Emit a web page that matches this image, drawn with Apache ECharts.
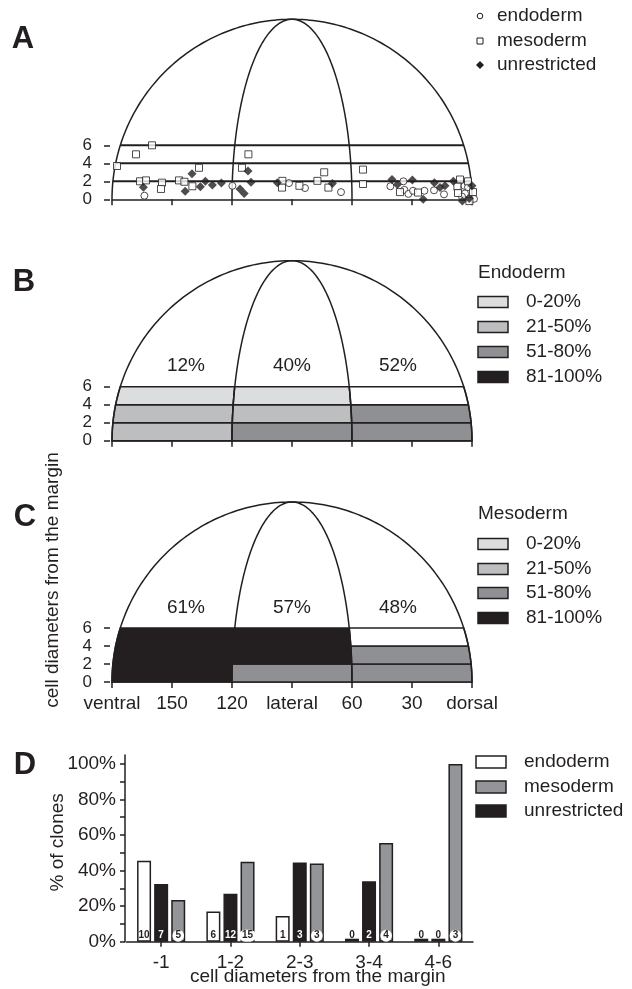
<!DOCTYPE html>
<html><head><meta charset="utf-8">
<script src="https://cdn.jsdelivr.net/npm/echarts@6/dist/echarts.min.js"></script>
<style>html,body{margin:0;padding:0;background:#fff}#c{width:632px;height:989px}</style>
</head><body><div id="c"></div>
<script>
// ---------- Panel A: clones [degrees from dorsal, cell diameters from margin] ----------
const endodermClones = [[163.8,0.4],[119.8,1.5],[91.5,1.8],[83.5,1.25],[65.5,0.8],[40.8,1.45],[34.3,2.0],[33.8,1.05],[31.8,0.6],[29.5,0.95],[23.8,0.95],[19,1.0],[14,0.55],[3.8,1.5],[3.5,0.65],[2,1.35],[5,0.3],[-1,0.05]];
const mesodermClones = [[160,6.0],[168,5.0],[177.5,3.7],[166,2.0],[163,2.1],[155,1.85],[155.5,1.15],[146.5,2.1],[143.8,1.95],[136.5,3.5],[139.8,1.45],[115,3.5],[111.8,5.0],[94.8,2.05],[95,1.3],[86.3,1.5],[77.3,2.05],[73.9,3.0],[71.8,1.3],[54.5,3.3],[54.5,1.7],[36,0.8],[27,0.75],[6,2.2],[2,2.0],[7.3,1.4],[7,0.7],[-0.5,0.8],[1.3,-0.2]];
const unrestrictedClones = [[164.3,1.35],[140,2.85],[143.4,0.9],[135.8,1.4],[133.3,2.0],[129.8,1.6],[125.3,1.8],[112,3.15],[110.5,1.9],[116,1.15],[113.9,0.65],[97.3,1.85],[69.8,1.75],[40,2.2],[37.3,1.65],[29.8,2.15],[24.4,0.0],[18.8,1.85],[16,1.3],[13.5,1.5],[9.3,2.0],[0,1.5],[4.8,-0.2],[1.4,0.1]];

const xTickValues = [0,30,60,90,120,150,180];
const xTickLabels = ['dorsal','30','60','lateral','120','150','ventral'];
const yTickValues = [0,2,4,6];
const rowEdges = [0,2,4,6];

// ---------- Panels B, C: shading class per cell (rows 0-2, 2-4, 4-6; cols ventral, lateral, dorsal) ----------
const shadeClasses = ['0-20%','21-50%','51-80%','81-100%'];
const endodermCells = [[1,2,2],[1,1,2],[0,0,-1]];
const mesodermCells = [[3,2,2],[3,3,2],[3,3,-1]];
const endodermTotals = ['12%','40%','52%'];
const mesodermTotals = ['61%','57%','48%'];

// ---------- Panel D ----------
const distCategories = ['-1','1-2','2-3','3-4','4-6'];
const endodermPctD = [45.5,17,14.5,0,0];
const unrestrictedPctD = [32.5,27,44.5,34,0];
const mesodermPctD = [23.5,45,44,55.5,100];
const endodermN = [10,6,1,0,0];
const unrestrictedN = [7,12,3,2,0];
const mesodermN = [5,15,3,4,3];
const pctLabelValues = [0,20,40,60,80,100];
const pctTickValues = [0,10,20,30,40,50,60,70,80,90,100];

// ---------- styling / geometry ----------
const INK = '#231f20';
const SHADES = ['#dcdddf','#bcbec0','#8f9093','#231f20'];
const MESO_GREY = '#939598';
const FONT = "'Liberation Sans', Arial, Helvetica, sans-serif";
const R_Y = 20, R_OUT = 90, R_IN = 30, MID = 90;
const colCenters = [143, 90, 37];
const TOTAL_Y = 8.3;

function half(y){ const r = y / R_Y; return Math.sqrt(Math.max(0, 1 - r*r)); }
function boundary(k, y){ const f = half(y); return [MID + R_OUT*f, MID + R_IN*f, MID - R_IN*f, MID - R_OUT*f][k]; }

function domeRender(withLevels){
  return function(params, api){
    const outer = [], inner = [];
    for (let i = 0; i <= 160; i++){
      const t = Math.PI * i / 160;
      outer.push(api.coord([MID + R_OUT*Math.cos(t), R_Y*Math.sin(t)]));
      inner.push(api.coord([MID + R_IN*Math.cos(t), R_Y*Math.sin(t)]));
    }
    const children = [
      {type:'polyline', shape:{points:outer}, style:{stroke:INK, fill:null, lineWidth:1.5}},
      {type:'polyline', shape:{points:inner}, style:{stroke:INK, fill:null, lineWidth:1.5}}
    ];
    if (withLevels){
      [2,4,6].forEach(function(lv){
        const a = api.coord([boundary(0, lv), lv]), b = api.coord([boundary(3, lv), lv]);
        children.push({type:'line', shape:{x1:a[0], y1:a[1], x2:b[0], y2:b[1]}, style:{stroke:INK, lineWidth:2}});
      });
    }
    return {type:'group', children: children};
  };
}

function cellRender(params, api){
  const col = api.value(0), row = api.value(1), cls = api.value(2);
  const y0 = rowEdges[row], y1 = rowEdges[row+1];
  const pts = [], N = 12;
  for (let i = 0; i <= N; i++){ const y = y0 + (y1-y0)*i/N; pts.push(api.coord([boundary(col, y), y])); }
  for (let i = N; i >= 0; i--){ const y = y0 + (y1-y0)*i/N; pts.push(api.coord([boundary(col+1, y), y])); }
  return {type:'polygon', shape:{points:pts}, style:{fill: cls < 0 ? '#fff' : SHADES[cls], stroke:INK, lineWidth:1.5}};
}

function totalRender(labels){
  return function(params, api){
    const i = params.dataIndex;
    const p = api.coord([colCenters[i], TOTAL_Y]);
    return {type:'text', x:p[0], y:p[1], style:{text: labels[i], fontSize:19, fontFamily:FONT, fill:INK, align:'center', verticalAlign:'middle'}};
  };
}

function cellData(cells){
  const out = [];
  cells.forEach(function(r, ri){ r.forEach(function(c, ci){ out.push([ci, ri, c]); }); });
  return out;
}

const gridBase = {outerBoundsMode:'none', containLabel:false};
const grids = [
  Object.assign({left:112, width:360, top:19.3, height:180}, gridBase),
  Object.assign({left:112, width:360, top:260.7, height:180}, gridBase),
  Object.assign({left:112, width:360, top:502, height:180}, gridBase),
  Object.assign({left:126.5, width:346.5, top:755, height:186.7}, gridBase)
];

const xAxes = [0,1,2].map(function(i){
  return {gridIndex:i, type:'value', min:0, max:180, interval:30, inverse:true,
    axisLine:{show:true, onZero:false, lineStyle:{color:INK, width:1.5}},
    axisTick:{show:true, length:6, lineStyle:{color:INK, width:1.5}},
    axisLabel:{show: i === 2, margin:12, fontSize:19, fontFamily:FONT, color:INK, showMinLabel:true, showMaxLabel:true,
      formatter: function(v){ return xTickLabels[xTickValues.indexOf(v)]; }},
    splitLine:{show:false}};
});
xAxes.push({gridIndex:3, type:'category', data:distCategories,
  axisLine:{show:true, lineStyle:{color:INK, width:1.5}},
  axisTick:{show:true, alignWithLabel:true, length:5, lineStyle:{color:INK, width:1.5}},
  axisLabel:{margin:12, fontSize:19, fontFamily:FONT, color:INK},
  name:'cell diameters from the margin', nameLocation:'middle', nameGap:26, nameMoveOverlap:false,
  nameTextStyle:{fontSize:19, fontFamily:FONT, color:INK, padding:[0,0,0,36]}});

const yAxes = [0,1,2].map(function(i){
  return {gridIndex:i, type:'value', position:'left', min:0, max:R_Y, offset:2,
    axisLine:{show:false, onZero:false},
    axisTick:{show:true, length:6, customValues:yTickValues, lineStyle:{color:INK, width:1.5}},
    axisLabel:{customValues:yTickValues, margin:18, fontSize:17, fontFamily:FONT, color:INK},
    splitLine:{show:false}};
});
yAxes.push({gridIndex:3, type:'value', position:'left', min:0, max:105, offset:1.5,
  axisLine:{show:true, onZero:false, lineStyle:{color:INK, width:1.5}},
  axisTick:{show:true, length:5, customValues:pctTickValues, lineStyle:{color:INK, width:1.5}},
  axisLabel:{customValues:pctLabelValues, margin:9, fontSize:19, fontFamily:FONT, color:INK, formatter:'{value}%'},
  splitLine:{show:false},
  name:'% of clones', nameLocation:'middle', nameGap:58, nameRotate:90, nameMoveOverlap:false,
  nameTextStyle:{fontSize:19, fontFamily:FONT, color:INK, padding:[0,0,0,12]}});

const countLabel = {show:true, position:'insideBottom', distance:0, fontSize:10, fontWeight:'bold', fontFamily:FONT, padding:[1,2]};

const series = [
  // Panel A
  {type:'custom', xAxisIndex:0, yAxisIndex:0, renderItem:domeRender(true), data:[[0,0]], silent:true, z:1},
  {name:'endoderm', type:'scatter', xAxisIndex:0, yAxisIndex:0, data:endodermClones, symbol:'circle', symbolSize:7, clip:false,
    itemStyle:{color:'#fff', borderColor:INK, borderWidth:1}, z:5},
  {name:'mesoderm', type:'scatter', xAxisIndex:0, yAxisIndex:0, data:mesodermClones, symbol:'rect', symbolSize:7, clip:false,
    itemStyle:{color:'#fff', borderColor:INK, borderWidth:1}, z:5},
  {name:'unrestricted', type:'scatter', xAxisIndex:0, yAxisIndex:0, data:unrestrictedClones, symbol:'diamond', symbolSize:9, clip:false,
    itemStyle:{color:INK}, z:6},
  // Panel B
  {type:'custom', xAxisIndex:1, yAxisIndex:1, renderItem:cellRender, data:cellData(endodermCells), silent:true, z:1},
  {type:'custom', xAxisIndex:1, yAxisIndex:1, renderItem:domeRender(false), data:[[0,0]], silent:true, z:2},
  {type:'custom', xAxisIndex:1, yAxisIndex:1, renderItem:totalRender(endodermTotals), data:endodermTotals.map(function(t,i){return [i,0];}), silent:true, z:3},
  // Panel C
  {type:'custom', xAxisIndex:2, yAxisIndex:2, renderItem:cellRender, data:cellData(mesodermCells), silent:true, z:1},
  {type:'custom', xAxisIndex:2, yAxisIndex:2, renderItem:domeRender(false), data:[[0,0]], silent:true, z:2},
  {type:'custom', xAxisIndex:2, yAxisIndex:2, renderItem:totalRender(mesodermTotals), data:mesodermTotals.map(function(t,i){return [i,0];}), silent:true, z:3},
  // Panel D
  {name:'endoderm D', type:'bar', xAxisIndex:3, yAxisIndex:3, data:endodermPctD, barWidth:14, barGap:'22%', barMinHeight:3,
    itemStyle:{color:'#fff', borderColor:INK, borderWidth:1.5},
    label:Object.assign({}, countLabel, {color:INK, formatter:function(p){return endodermN[p.dataIndex];}})},
  {name:'unrestricted D', type:'bar', xAxisIndex:3, yAxisIndex:3, barWidth:14, barGap:'22%', barMinHeight:3,
    data:unrestrictedPctD.map(function(v){ return v === 0 ? {value:v, label:{color:INK}} : v; }),
    itemStyle:{color:INK, borderColor:INK, borderWidth:1.5},
    label:Object.assign({}, countLabel, {color:'#fff', formatter:function(p){return unrestrictedN[p.dataIndex];}})},
  {name:'mesoderm D', type:'bar', xAxisIndex:3, yAxisIndex:3, data:mesodermPctD, barWidth:14, barGap:'22%', barMinHeight:3,
    itemStyle:{color:MESO_GREY, borderColor:INK, borderWidth:1.5},
    label:Object.assign({}, countLabel, {color:INK, backgroundColor:'#fff', borderRadius:7, padding:[1,3], formatter:function(p){return mesodermN[p.dataIndex];}})}
];

// ---------- legends & panel letters (graphic) ----------
function txt(x, y, s){
  return {type:'text', x:x, y:y, silent:true,
    style:{text:s, fontSize:19, fontFamily:FONT, fill:INK, align:'left', verticalAlign:'middle'}};
}
const graphic = [];
[['A',23,39],['B',24,282],['C',25,517],['D',25,765]].forEach(function(l){
  graphic.push({type:'text', x:l[1], y:l[2], silent:true, style:{text:l[0], fontSize:31, fontWeight:'bold', fontFamily:FONT, fill:INK, align:'center', verticalAlign:'middle'}});
});
// Legend A
const legA = [['endoderm',16],['mesoderm',41],['unrestricted',65]];
graphic.push({type:'circle', shape:{cx:480, cy:legA[0][1], r:2.8}, style:{fill:'#fff', stroke:INK, lineWidth:1}, silent:true});
graphic.push({type:'rect', shape:{x:477, y:legA[1][1]-3, width:6, height:6}, style:{fill:'#fff', stroke:INK, lineWidth:1}, silent:true});
graphic.push({type:'polygon', shape:{points:[[480,legA[2][1]-4],[484,legA[2][1]],[480,legA[2][1]+4],[476,legA[2][1]]]}, style:{fill:INK}, silent:true});
legA.forEach(function(l){ graphic.push(txt(497, l[1], l[0])); });
// Legends B, C
function shadeLegend(title, ty, rows){
  graphic.push(txt(478, ty, title));
  shadeClasses.forEach(function(c, i){
    graphic.push({type:'rect', shape:{x:478, y:rows[i]-5.5, width:30, height:11}, style:{fill:SHADES[i], stroke:INK, lineWidth:1.5}, silent:true});
    graphic.push(txt(526, rows[i], c));
  });
}
shadeLegend('Endoderm', 273, [302,327,352,377]);
shadeLegend('Mesoderm', 514, [544,569,593,618]);
// Legend D
[['endoderm','#fff',762],['mesoderm',MESO_GREY,787],['unrestricted',INK,811]].forEach(function(l){
  graphic.push({type:'rect', shape:{x:476, y:l[2]-6, width:30, height:12}, style:{fill:l[1], stroke:INK, lineWidth:1.5}, silent:true});
  graphic.push(txt(524, l[2], l[0]));
});
// shared y-axis title for B/C
graphic.push({type:'text', x:53, y:580, rotation:Math.PI/2, silent:true,
  style:{text:'cell diameters from the margin', fontSize:19, fontFamily:FONT, fill:INK, align:'center', verticalAlign:'middle'}});

const chart = echarts.init(document.getElementById('c'), null, {renderer:'canvas'});
chart.setOption({
  animation:false,
  backgroundColor:'#fff',
  textStyle:{fontFamily:FONT, color:INK},
  grid:grids, xAxis:xAxes, yAxis:yAxes, series:series, graphic:graphic
});
</script></body></html>
